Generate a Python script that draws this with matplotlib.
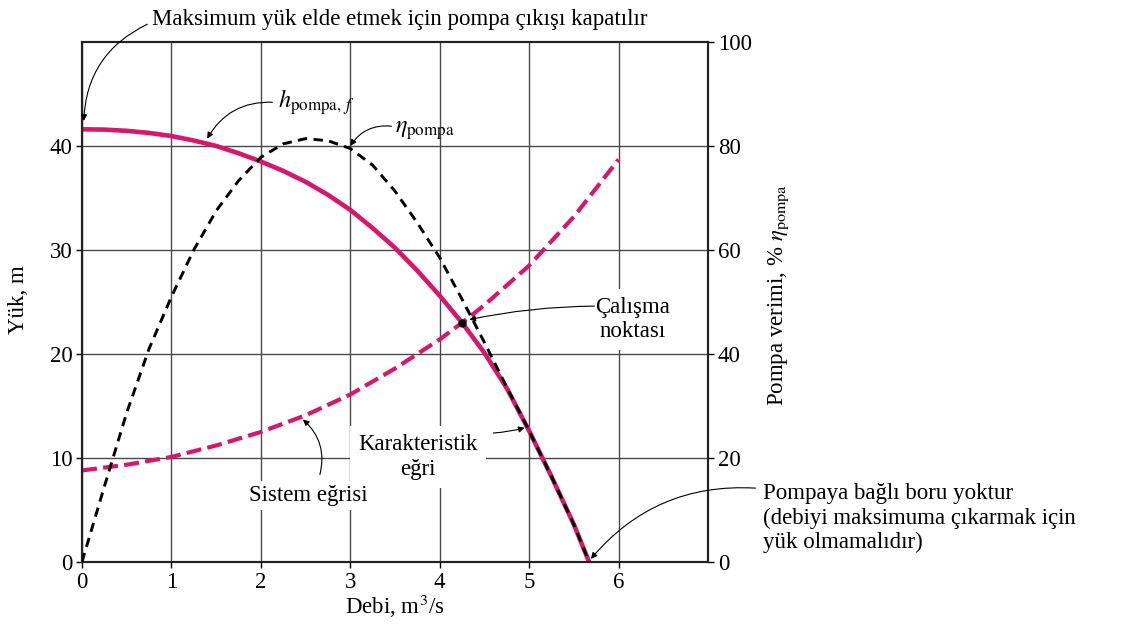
import matplotlib
matplotlib.use('Agg')
import matplotlib.pyplot as plt

# ---- data ----
q_head = [0, 0.25, 0.5, 0.75, 1.0, 1.25, 1.5, 1.75, 2.0, 2.25, 2.5, 2.75, 3.0,
          3.25, 3.5, 3.75, 4.0, 4.25, 4.5, 4.75, 5.0, 5.25, 5.5, 5.67]
head = [41.6, 41.57, 41.45, 41.25, 40.95, 40.52, 40.0, 39.3, 38.5, 37.6, 36.55,
        35.3, 33.85, 32.1, 30.2, 28.0, 25.6, 23.0, 20.1, 16.7, 12.6, 8.2, 3.6, 0.0]

q_eff = [0, 0.25, 0.5, 0.75, 1.0, 1.25, 1.5, 1.75, 2.0, 2.25, 2.5, 2.75, 3.0,
         3.25, 3.5, 3.75, 4.0, 4.25, 4.5, 4.75, 5.0, 5.25, 5.5, 5.67]
eff = [0, 14.5, 28.7, 41.0, 51.0, 60.0, 67.5, 73.3, 77.8, 80.4, 81.4, 81.0, 79.5,
       76.3, 71.3, 65.2, 58.5, 50.5, 42.2, 33.6, 25.2, 16.4, 7.2, 0.0]

q_sys = [0, 0.5, 1.0, 1.5, 2.0, 2.5, 3.0, 3.5, 4.0, 4.25, 4.5, 5.0, 5.5, 6.0]
sys_head = [8.8, 9.35, 10.1, 11.2, 12.5, 14.1, 16.1, 18.6, 21.4, 23.0, 24.7, 28.5, 33.2, 38.7]

op_q, op_h = 4.25, 23.0

x_ticks = [0, 1, 2, 3, 4, 5, 6]
y_ticks = [0, 10, 20, 30, 40]
y2_ticks = [0, 20, 40, 60, 80, 100]

PINK = '#d6186b'

plt.rcParams['font.family'] = ['Liberation Serif', 'DejaVu Serif']
plt.rcParams['mathtext.fontset'] = 'stix'

fig = plt.figure(figsize=(11.23, 6.35), dpi=100)
ax = fig.add_axes([0.073, 0.115, 0.5575, 0.819])
ax2 = ax.twinx()

ax.set_xlim(0, 7)
ax.set_ylim(0, 50)
ax2.set_ylim(0, 100)

ax.set_xticks(x_ticks)
ax.set_xticklabels([str(t) for t in x_ticks])
ax.set_yticks(y_ticks)
ax.set_yticklabels([str(t) for t in y_ticks])
ax2.set_yticks(y2_ticks)
ax2.set_yticklabels([str(t) for t in y2_ticks])

fs = 16.5
ax.tick_params(axis='both', direction='out', length=4, width=1, labelsize=fs, pad=3)
ax2.tick_params(axis='y', direction='out', length=4, width=1, labelsize=fs, pad=3)

# grid (extra vertical/horizontal lines at 7 and 50 coincide with spines)
ax.grid(True, color='#4a4a4a', linewidth=1.0)
ax.set_axisbelow(True)
for a in (ax, ax2):
    for s in a.spines.values():
        s.set_linewidth(1.5)
        s.set_color('#222222')

# curves
ax.plot(q_sys, sys_head, color=PINK, lw=3.0, dashes=(3.6, 1.5), solid_capstyle='butt', zorder=3)
ax.plot(q_head, head, color=PINK, lw=3.3, solid_capstyle='round', zorder=4)
ax2.plot(q_eff, eff, color='black', lw=2.1, dashes=(3.2, 2.2), zorder=5)
ax2.plot([op_q], [op_h * 2], 'o', color='black', ms=5, zorder=6)

# axis labels
ax.set_xlabel('Debi, m$^3$/s', fontsize=fs)
ax.xaxis.set_label_coords(0.5, -0.06)
ax.set_ylabel('Yük, m', fontsize=fs)
ax.yaxis.set_label_coords(-0.085, 0.504)
ax2.set_ylabel('Pompa verimi, % $\\eta_{\\mathrm{pompa}}$', fontsize=fs)
ax2.yaxis.set_label_coords(1.093, 0.513)

T = ax.transData
arrow = dict(arrowstyle='-|>', color='black', lw=0.8, mutation_scale=9, shrinkA=0, shrinkB=0)
wb = dict(facecolor='white', edgecolor='none', pad=6)

def arr(start, tip, rad):
    p = dict(arrow)
    p['connectionstyle'] = 'arc3,rad=%s' % rad
    ax2.annotate('', xy=tip, xycoords=T, xytext=start, textcoords=T,
                 arrowprops=p, annotation_clip=False)

# top annotation
ax2.text(0.78, 52.2, 'Maksimum yük elde etmek için pompa çıkışı kapatılır',
         transform=T, fontsize=fs, ha='left', va='center', clip_on=False)
arr((0.73, 51.7), (0.02, 42.4), 0.3)

# h pompa label
ax2.text(2.19, 43.7, '$h_{\\mathrm{pompa},\\,f}$', transform=T, fontsize=fs + 1,
         ha='left', va='baseline')
arr((2.13, 44.2), (1.40, 40.7), 0.3)

# eta pompa label
ax2.text(3.5, 41.3, '$\\eta_{\\mathrm{pompa}}$', transform=T, fontsize=fs + 1,
         ha='left', va='baseline')
arr((3.46, 41.9), (3.0, 40.0), 0.3)

# operating point
ax2.text(6.16, 23.3, 'Çalışma\nnoktası', transform=T, fontsize=fs, ha='center',
         va='center', bbox=wb, linespacing=1.2)
arr((5.73, 24.6), (4.33, 23.3), 0.05)

# characteristic curve
ax2.text(3.76, 10.1, 'Karakteristik\neğri', transform=T, fontsize=fs, ha='center',
         va='center', bbox=wb, linespacing=1.2)
arr((4.6, 12.4), (4.95, 12.9), 0.05)

# system curve
ax2.text(2.53, 6.4, 'Sistem eğrisi', transform=T, fontsize=fs, ha='center',
         va='center', bbox=dict(facecolor='white', edgecolor='none', pad=3))
arr((2.66, 8.4), (2.47, 13.7), 0.3)

# no pipe annotation
ax2.text(7.61, 4.2, 'Pompaya bağlı boru yoktur\n(debiyi maksimuma çıkarmak için\nyük olmamalıdır)',
         transform=T, fontsize=fs, ha='left', va='center', linespacing=1.2, clip_on=False)
arr((7.53, 7.1), (5.69, 0.3), 0.25)

fig.savefig('out.png', dpi=100)
